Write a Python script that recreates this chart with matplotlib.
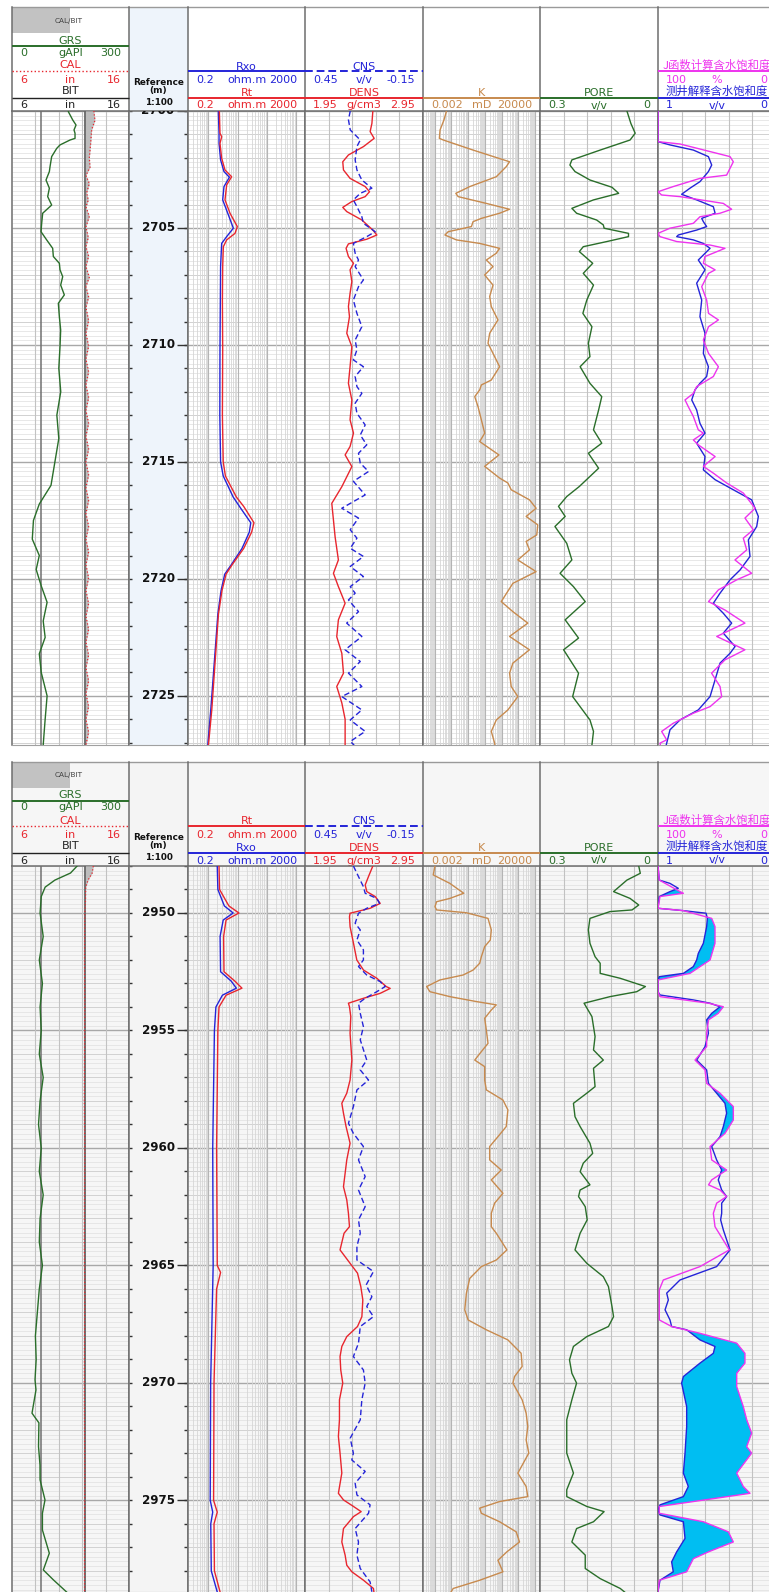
import numpy as np
import matplotlib
matplotlib.use("Agg")
import matplotlib.pyplot as plt
from matplotlib.patches import Rectangle
from matplotlib.ticker import NullLocator

plt.rcParams['font.family'] = ['DejaVu Sans', 'Noto Sans CJK SC']

# ======================= interval A : 2700 - 2727 m =======================
A_RANGE = (2700.0, 2727.1)

GR_A_D = [2700.03, 2700.38, 2700.60, 2700.81, 2700.95, 2701.17, 2701.24, 2701.45, 2701.60, 2701.95,
          2702.38, 2702.59, 2702.95, 2703.30, 2703.66, 2704.02, 2704.37, 2704.80, 2705.16, 2705.51,
          2705.87, 2706.22, 2706.51, 2706.79, 2707.08, 2707.44, 2707.86, 2708.22, 2708.79, 2709.36,
          2710.07, 2711.0, 2712.0, 2713.0, 2714.0, 2715.0, 2716.0, 2716.8, 2717.5, 2718.3,
          2719.0, 2719.6, 2720.3, 2721.0, 2721.8, 2722.5, 2723.2, 2724.0, 2725.0, 2726.0, 2727.1]
GR_A = [144.5, 155.6, 164.2, 159.0, 161.6, 161.6, 148.8, 123.1, 114.6, 101.7,
        97.5, 95.8, 87.2, 95.8, 91.5, 101.7, 78.7, 76.1, 74.4, 88.9,
        104.3, 106.0, 121.4, 123.1, 130.0, 124.8, 134.2, 118.8, 121.4, 124.8,
        123.1, 120, 125, 115, 120, 110, 100, 70, 55, 52,
        70, 62, 75, 90, 80, 85, 70, 75, 90, 85, 80]

CAL_A_D = [2700.0, 2700.4, 2700.8, 2701.4, 2702.0, 2702.4, 2702.75, 2703.1, 2703.5, 2703.8,
           2704.1, 2704.5, 2704.95, 2705.4, 2705.8, 2706.2, 2706.65, 2707.1, 2707.5, 2707.95,
           2708.4, 2708.95, 2709.5, 2710.05, 2710.6, 2711.15, 2711.7, 2712.25, 2712.8, 2713.35,
           2713.9, 2714.45, 2715.0, 2715.55, 2716.1, 2716.65, 2717.2, 2717.75, 2718.3, 2718.85,
           2719.4, 2719.95, 2720.5, 2721.05, 2721.6, 2722.15, 2722.7, 2723.25, 2723.8, 2724.35,
           2724.9, 2725.45, 2726.0, 2726.55, 2727.1]
CAL_A = [13.0, 13.09, 12.81, 12.72, 12.61, 12.67, 12.32, 12.61, 12.38, 12.52,
         12.32, 12.61, 12.32, 12.52, 12.32, 12.55, 12.32, 12.61, 12.32, 12.55,
         12.32, 12.55, 12.32, 12.55, 12.32, 12.55, 12.32, 12.55, 12.32, 12.55,
         12.32, 12.55, 12.32, 12.55, 12.32, 12.55, 12.32, 12.55, 12.32, 12.55,
         12.32, 12.55, 12.32, 12.55, 12.32, 12.55, 12.32, 12.55, 12.32, 12.55,
         12.32, 12.55, 12.32, 12.55, 12.32]
BIT_SIZE = 12.25
GR_BASE = 75.0

RT_A_D = [2700.00, 2700.95, 2701.10, 2701.38, 2702.02, 2702.52, 2702.81, 2703.16, 2703.80, 2704.37,
          2704.94, 2705.23, 2705.51, 2705.80, 2706.65, 2708.08, 2710.21, 2713.0, 2715.0, 2715.6,
          2716.5, 2716.9, 2717.6, 2718.0, 2718.7, 2719.4, 2719.8, 2720.5, 2721.5, 2723.5,
          2725.6, 2727.1]
RT_A = [2.36, 2.48, 2.83, 2.48, 2.83, 3.68, 6.2, 4.2, 3.68, 5.46,
        9.7, 8.1, 4.2, 3.23, 3.07, 3.0, 3.07, 3.0, 3.2, 3.8,
        9.0, 16, 36, 30, 16, 6.4, 4.0, 2.9, 2.2, 1.7,
        1.3, 1.0]
RXO_A_D = [2700.00, 2700.95, 2701.38, 2702.09, 2702.59, 2702.83, 2703.23, 2703.80, 2704.44, 2705.01,
           2705.37, 2705.66, 2706.65, 2710.21, 2713.0, 2715.0, 2715.6, 2716.5, 2717.0, 2717.6,
           2718.0, 2718.7, 2719.4, 2719.8, 2720.5, 2721.5, 2723.5, 2725.6, 2727.1]
RXO_A = [2.18, 2.30, 2.30, 2.6, 3.4, 5.2, 3.4, 3.07, 4.8, 7.1,
         4.2, 2.83, 2.6, 2.48, 2.45, 2.6, 3.2, 7.0, 13, 28,
         25, 14, 6.0, 3.6, 2.7, 2.1, 1.6, 1.2, 0.95]

DEN_A_D = [2700.00, 2700.53, 2700.88, 2701.17, 2701.52, 2701.88, 2702.17, 2702.52, 2702.88, 2703.23,
           2703.45, 2703.66, 2703.87, 2704.12, 2704.30, 2704.66, 2705.09, 2705.30, 2705.48, 2705.68,
           2705.87, 2706.22, 2706.51, 2706.79, 2707.29, 2707.79, 2708.36, 2708.79, 2709.50, 2710.07,
           2710.93, 2711.64, 2712.35, 2713.20, 2713.77, 2714.34, 2714.70, 2715.20, 2716.06, 2716.77,
           2717.48, 2718.20, 2719.19, 2719.76, 2720.33, 2721.04, 2721.75, 2722.47, 2723.18, 2724.03,
           2724.60, 2725.30, 2726.00, 2727.10]
DEN_A = [2.525, 2.517, 2.502, 2.536, 2.446, 2.318, 2.270, 2.276, 2.332, 2.460,
         2.497, 2.460, 2.347, 2.270, 2.304, 2.432, 2.525, 2.559, 2.474, 2.318,
         2.298, 2.318, 2.361, 2.332, 2.347, 2.332, 2.318, 2.327, 2.304, 2.347,
         2.332, 2.318, 2.347, 2.332, 2.361, 2.332, 2.290, 2.347, 2.262, 2.177,
         2.191, 2.205, 2.233, 2.191, 2.233, 2.290, 2.233, 2.219, 2.262, 2.276,
         2.219, 2.262, 2.290, 2.290]

CNS_A_D = [2700.00, 2700.38, 2700.81, 2701.24, 2701.52, 2702.09, 2702.52, 2702.95, 2703.30, 2703.52,
           2703.80, 2704.09, 2704.52, 2704.80, 2705.16, 2705.37, 2705.66, 2706.08, 2706.37, 2706.65,
           2707.22, 2707.51, 2708.08, 2708.65, 2709.22, 2709.79, 2710.21, 2710.64, 2710.93, 2711.35,
           2711.78, 2712.07, 2712.49, 2712.92, 2713.42, 2713.85, 2714.27, 2714.63, 2715.05, 2715.41,
           2715.83, 2716.41, 2716.98, 2717.40, 2717.90, 2718.26, 2718.69, 2719.04, 2719.47, 2719.90,
           2720.33, 2720.61, 2720.90, 2721.40, 2721.89, 2722.46, 2723.03, 2723.53, 2724.03, 2724.60,
           2725.03, 2725.60, 2726.03, 2726.52, 2726.95, 2727.10]
CNS_A = [0.220, 0.229, 0.220, 0.169, 0.186, 0.195, 0.186, 0.161, 0.110, 0.169,
         0.204, 0.186, 0.161, 0.153, 0.093, 0.136, 0.204, 0.195, 0.178, 0.195,
         0.153, 0.178, 0.204, 0.186, 0.161, 0.195, 0.186, 0.204, 0.153, 0.195,
         0.186, 0.161, 0.195, 0.186, 0.144, 0.169, 0.136, 0.178, 0.169, 0.127,
         0.204, 0.144, 0.263, 0.178, 0.220, 0.186, 0.220, 0.153, 0.220, 0.153,
         0.220, 0.195, 0.229, 0.178, 0.238, 0.161, 0.246, 0.169, 0.229, 0.161,
         0.263, 0.161, 0.220, 0.144, 0.220, 0.200]

K_A_D = [2700.00, 2700.38, 2700.81, 2701.17, 2701.24, 2701.67, 2702.17, 2702.38, 2702.81, 2703.23,
         2703.52, 2703.66, 2703.95, 2704.20, 2704.37, 2704.59, 2704.73, 2704.94, 2705.16, 2705.30,
         2705.51, 2705.66, 2705.87, 2706.08, 2706.37, 2706.65, 2707.01, 2707.44, 2707.93, 2708.36,
         2708.93, 2709.50, 2709.93, 2710.36, 2710.93, 2711.50, 2711.71, 2711.92, 2712.21, 2712.64,
         2713.20, 2713.77, 2714.13, 2714.70, 2715.19, 2715.69, 2715.90, 2716.19, 2716.62, 2716.98,
         2717.33, 2717.69, 2718.12, 2718.40, 2718.76, 2719.19, 2719.69, 2720.19, 2720.97, 2721.40,
         2721.89, 2722.46, 2723.03, 2723.60, 2724.03, 2724.60, 2725.03, 2725.60, 2726.03, 2726.52,
         2727.02, 2727.10]
K_A = [0.051, 0.036, 0.021, 0.019, 0.033, 1.98, 302, 191, 48.5, 1.26,
       0.184, 0.254, 12.3, 302, 76.6, 6.2, 1.98, 1.58, 0.064, 0.041,
       0.2, 4.94, 76.6, 48.5, 12.3, 30.8, 9.8, 30.8, 19.5, 24.4,
       61, 19.5, 15.5, 30.8, 76.6, 24.4, 6.2, 4.94, 2.49, 3.93,
       6.2, 9.8, 4.94, 70, 9.8, 76.6, 240, 379, 4680, 11700,
       2970, 14700, 12800, 2970, 4680, 946, 11700, 477, 96, 477,
       3720, 302, 4680, 477, 302, 379, 946, 240, 48.5, 24.4,
       38.6, 40]

PORE_A_D = [2700.00, 2700.53, 2700.95, 2701.24, 2701.67, 2702.09, 2702.31, 2702.59, 2702.95, 2703.26,
            2703.52, 2703.80, 2704.16, 2704.37, 2704.66, 2704.87, 2705.01, 2705.23, 2705.37, 2705.58,
            2705.80, 2706.01, 2706.51, 2706.94, 2707.44, 2708.08, 2708.65, 2709.22, 2709.93, 2710.50,
            2710.93, 2711.64, 2712.21, 2712.78, 2713.63, 2714.20, 2714.63, 2715.27, 2716.05, 2716.48,
            2716.90, 2717.33, 2717.76, 2718.48, 2719.19, 2719.76, 2720.33, 2720.97, 2721.75, 2722.53,
            2723.03, 2724.03, 2725.03, 2726.03, 2726.52, 2727.10]
PORE_A = [0.079, 0.069, 0.058, 0.071, 0.147, 0.219, 0.224, 0.211, 0.173, 0.117,
          0.100, 0.164, 0.219, 0.207, 0.156, 0.139, 0.137, 0.075, 0.075, 0.130,
          0.190, 0.200, 0.166, 0.190, 0.164, 0.181, 0.191, 0.168, 0.177, 0.173,
          0.198, 0.173, 0.143, 0.151, 0.164, 0.143, 0.177, 0.151, 0.200, 0.232,
          0.253, 0.236, 0.262, 0.232, 0.219, 0.249, 0.215, 0.185, 0.236, 0.202,
          0.240, 0.202, 0.217, 0.173, 0.164, 0.168]

SW_A_D = [2700.00, 2701.31, 2701.45, 2701.67, 2701.95, 2702.31, 2702.59, 2703.02, 2703.30, 2703.56,
          2703.80, 2704.09, 2704.37, 2704.59, 2704.73, 2704.94, 2705.09, 2705.30, 2705.37, 2705.51,
          2705.66, 2705.87, 2706.37, 2706.79, 2707.36, 2708.08, 2708.79, 2709.50, 2710.36, 2710.93,
          2711.35, 2711.64, 2711.92, 2712.35, 2712.78, 2713.35, 2713.77, 2714.20, 2714.77, 2715.34,
          2715.76, 2716.19, 2716.62, 2717.33, 2717.76, 2718.33, 2719.04, 2719.62, 2720.04, 2720.61,
          2721.04, 2721.47, 2721.89, 2722.32, 2722.89, 2723.18, 2723.60, 2724.31, 2725.03, 2725.60,
          2726.03, 2726.45, 2726.74, 2727.02, 2727.10]
SW_A = [1.0, 1.0, 0.898, 0.699, 0.571, 0.543, 0.571, 0.643, 0.728, 0.799,
        0.671, 0.529, 0.514, 0.628, 0.614, 0.586, 0.671, 0.827, 0.841, 0.699,
        0.614, 0.557, 0.657, 0.600, 0.671, 0.628, 0.643, 0.600, 0.614, 0.571,
        0.586, 0.643, 0.685, 0.713, 0.671, 0.643, 0.600, 0.671, 0.600, 0.614,
        0.514, 0.359, 0.203, 0.146, 0.160, 0.231, 0.217, 0.302, 0.387, 0.472,
        0.529, 0.444, 0.373, 0.444, 0.344, 0.387, 0.472, 0.514, 0.557, 0.657,
        0.813, 0.898, 0.912, 0.926, 0.93]

SWJ_A_D = [2700.00, 2701.31, 2701.41, 2701.95, 2702.17, 2702.74, 2702.88, 2703.23, 2703.45, 2703.59,
           2703.66, 2703.95, 2704.20, 2704.37, 2704.52, 2704.80, 2705.01, 2705.23, 2705.37, 2705.58,
           2705.73, 2705.87, 2706.22, 2706.51, 2706.79, 2706.94, 2707.51, 2708.08, 2708.65, 2708.93,
           2709.22, 2709.79, 2710.36, 2710.93, 2711.35, 2711.78, 2712.07, 2712.35, 2712.64, 2713.06,
           2713.63, 2713.77, 2714.06, 2714.27, 2714.77, 2715.19, 2715.48, 2715.90, 2716.33, 2716.98,
           2717.40, 2717.90, 2718.26, 2718.76, 2719.19, 2719.76, 2720.04, 2720.47, 2720.97, 2721.33,
           2721.89, 2722.46, 2723.03, 2723.46, 2724.03, 2724.60, 2725.03, 2725.46, 2725.74, 2726.17,
           2726.52, 2726.88, 2727.02, 2727.10]
SWJ_A = [100, 100, 81.3, 38.7, 35.9, 41.6, 64.3, 87.0, 100, 96.9,
         81.3, 44.4, 37.3, 47.2, 64.3, 69.9, 89.8, 100, 98.3, 84.1,
         55.7, 43.0, 60.0, 61.4, 51.4, 57.0, 62.8, 58.6, 57.0, 48.6,
         57.0, 61.4, 57.0, 48.6, 52.9, 67.1, 69.9, 77.0, 74.2, 69.9,
         65.7, 61.4, 69.9, 65.7, 51.4, 61.4, 52.9, 41.6, 27.4, 17.4,
         26.0, 18.9, 27.4, 24.5, 34.5, 20.3, 33.0, 48.6, 57.0, 43.0,
         26.0, 50.0, 26.0, 43.0, 54.4, 47.2, 45.8, 55.7, 69.9, 87.0,
         96.9, 92.6, 98.3, 98.0]

# ======================= interval B : 2948 - 2979 m =======================
B_RANGE = (2948.0, 2978.9)

GR_B_D = [2948.0, 2948.3, 2948.6, 2948.9, 2949.3, 2950.0, 2951.0, 2952.0, 2953.0, 2954.0,
          2955.0, 2956.0, 2957.0, 2958.0, 2959.0, 2960.0, 2961.0, 2962.0, 2963.0, 2964.0,
          2965.0, 2966.0, 2967.0, 2968.0, 2969.0, 2969.87, 2970.3, 2971.29, 2971.7, 2972.71,
          2973.5, 2974.13, 2974.98, 2975.55, 2976.26, 2977.25, 2977.96, 2978.38, 2978.9]
GR_B = [167, 150, 110, 85, 75, 72, 80, 70, 78, 72,
        75, 70, 80, 72, 68, 75, 70, 80, 72, 70,
        78, 70, 65, 60, 62, 59, 61.5, 51.3, 69, 68,
        71.8, 72, 84.6, 78, 78, 95.7, 80.3, 105.9, 140]
CAL_B_D = [2948.0, 2948.3, 2948.6, 2948.9, 2949.5, 2950.0, 2952.0, 2954.0, 2956.0, 2958.0,
           2960.0, 2962.0, 2964.0, 2966.0, 2968.0, 2970.0, 2972.0, 2974.0, 2976.0, 2978.9]
CAL_B = [12.95, 12.85, 12.5, 12.3, 12.28, 12.22, 12.2, 12.22, 12.2, 12.18,
         12.22, 12.2, 12.18, 12.22, 12.2, 12.18, 12.2, 12.22, 12.2, 12.2]

RT_B_D = [2948.0, 2949.0, 2949.7, 2950.0, 2950.3, 2951.0, 2952.5, 2952.9, 2953.2, 2953.5,
          2954.0, 2955.0, 2960.0, 2965.0, 2965.3, 2966.0, 2970.0, 2975.0, 2975.5, 2976.0,
          2978.0, 2978.9]
RT_B = [2.3, 2.4, 5.0, 11, 4.0, 3.3, 3.4, 8, 14, 4.0,
        2.3, 2.1, 1.9, 2.0, 2.6, 1.9, 1.55, 1.5, 2.0, 1.55,
        1.6, 2.5]
RXO_B_D = [2948.0, 2949.0, 2949.7, 2950.0, 2950.3, 2951.0, 2952.5, 2952.9, 2953.2, 2953.5,
           2954.0, 2955.0, 2960.0, 2965.0, 2970.0, 2975.0, 2975.5, 2976.0, 2978.0, 2978.9]
RXO_B = [2.0, 2.1, 3.5, 7.0, 3.2, 2.5, 2.6, 6.0, 9.0, 3.0,
         1.8, 1.6, 1.4, 1.45, 1.19, 1.15, 1.4, 1.2, 1.25, 2.0]

DEN_B_D = [2948.00, 2948.45, 2948.81, 2949.09, 2949.30, 2949.59, 2949.80, 2950.01, 2950.16, 2950.58,
           2951.29, 2952.00, 2952.43, 2952.78, 2953.13, 2953.21, 2953.42, 2953.63, 2953.84, 2953.99,
           2954.41, 2955.12, 2956.26, 2957.11, 2957.67, 2958.10, 2958.52, 2959.09, 2959.80, 2960.51,
           2961.08, 2961.65, 2962.21, 2962.78, 2963.35, 2963.63, 2964.34, 2964.91, 2965.33, 2965.90,
           2966.47, 2967.18, 2967.60, 2968.03, 2968.45, 2968.88, 2969.45, 2970.01, 2970.72, 2971.57,
           2972.28, 2972.99, 2973.84, 2974.70, 2974.98, 2975.26, 2975.48, 2975.69, 2976.20, 2976.77,
           2977.33, 2977.76, 2978.04, 2978.40, 2978.75, 2978.98]
DEN_B = [2.525, 2.488, 2.460, 2.474, 2.545, 2.587, 2.502, 2.332, 2.327, 2.332,
         2.361, 2.389, 2.446, 2.559, 2.638, 2.672, 2.587, 2.446, 2.318, 2.327,
         2.338, 2.332, 2.347, 2.332, 2.304, 2.262, 2.276, 2.298, 2.332, 2.304,
         2.290, 2.276, 2.304, 2.318, 2.327, 2.281, 2.247, 2.332, 2.395, 2.423,
         2.440, 2.432, 2.395, 2.304, 2.262, 2.247, 2.253, 2.270, 2.242, 2.242,
         2.233, 2.247, 2.262, 2.233, 2.276, 2.361, 2.426, 2.361, 2.276, 2.262,
         2.290, 2.304, 2.347, 2.446, 2.530, 2.536]

CNS_B_D = [2948.00, 2948.45, 2948.88, 2949.16, 2949.38, 2949.59, 2949.80, 2950.01, 2950.44, 2950.72,
           2951.15, 2951.57, 2952.00, 2952.28, 2952.64, 2952.92, 2953.13, 2953.35, 2953.63, 2953.84,
           2954.27, 2954.84, 2955.40, 2956.26, 2956.68, 2957.11, 2957.53, 2958.24, 2958.95, 2959.38,
           2959.94, 2960.51, 2961.22, 2961.79, 2962.50, 2963.06, 2963.63, 2964.19, 2964.77, 2965.26,
           2965.83, 2966.33, 2966.75, 2967.18, 2967.60, 2968.31, 2968.88, 2969.45, 2970.01, 2970.72,
           2971.57, 2972.35, 2972.99, 2973.28, 2973.77, 2974.27, 2974.77, 2975.19, 2975.55, 2976.20,
           2976.77, 2977.33, 2977.90, 2978.47, 2978.89]
CNS_B = [0.204, 0.178, 0.153, 0.144, 0.085, 0.071, 0.136, 0.178, 0.195, 0.169,
         0.186, 0.153, 0.153, 0.178, 0.136, 0.068, 0.042, 0.085, 0.144, 0.178,
         0.169, 0.153, 0.169, 0.136, 0.169, 0.127, 0.186, 0.204, 0.229, 0.204,
         0.153, 0.178, 0.144, 0.178, 0.144, 0.178, 0.169, 0.186, 0.186, 0.102,
         0.139, 0.110, 0.136, 0.102, 0.169, 0.178, 0.204, 0.153, 0.144, 0.161,
         0.169, 0.220, 0.204, 0.212, 0.144, 0.195, 0.186, 0.119, 0.127, 0.195,
         0.178, 0.186, 0.169, 0.119, 0.110]

K_B_D = [2948.00, 2948.38, 2948.74, 2949.16, 2949.38, 2949.52, 2949.73, 2949.87, 2949.99, 2950.23,
         2950.72, 2951.15, 2951.43, 2951.86, 2952.14, 2952.43, 2952.64, 2952.85, 2953.13, 2953.35,
         2953.56, 2953.77, 2953.91, 2954.13, 2954.48, 2954.98, 2955.55, 2955.90, 2956.26, 2956.54,
         2957.11, 2957.53, 2957.96, 2958.38, 2959.09, 2959.52, 2959.94, 2960.51, 2960.94, 2961.36,
         2961.93, 2962.35, 2962.78, 2963.35, 2963.63, 2964.34, 2964.77, 2965.05, 2965.55, 2966.18,
         2966.89, 2967.32, 2967.74, 2968.17, 2968.74, 2969.30, 2969.73, 2970.01, 2970.72, 2971.29,
         2971.86, 2972.43, 2972.99, 2973.84, 2974.41, 2974.84, 2975.05, 2975.33, 2975.55, 2975.91,
         2976.34, 2976.77, 2977.19, 2977.55, 2978.04, 2978.40, 2978.75, 2978.98]
K_B = [0.0104, 0.0082, 0.081, 0.55, 0.081, 0.013, 0.0104, 0.013, 0.79, 15.5,
       24.4, 21.3, 9.8, 6.2, 4.94, 1.98, 0.50, 0.0206, 0.0033, 0.0052,
       0.081, 3.13, 48.5, 24.4, 9.8, 12.3, 15.5, 6.2, 2.49, 9.8,
       9.8, 12.3, 121, 240, 191, 61, 19.5, 19.5, 96, 24.4,
       121, 38.6, 24.4, 24.4, 48.5, 209, 48.5, 6.2, 1.26, 0.79,
       0.63, 1.0, 12.3, 240, 1490, 1710, 598, 477, 1710, 2970,
       3720, 2970, 4270, 946, 2970, 3720, 76.6, 4.94, 6.2, 76.6,
       752, 1190, 209, 61, 121, 4.94, 0.128, 0.081]

PORE_B_D = [2948.00, 2948.31, 2948.60, 2949.09, 2949.38, 2949.66, 2949.87, 2949.94, 2950.23, 2950.72,
            2951.29, 2951.86, 2952.14, 2952.57, 2952.78, 2953.13, 2953.35, 2953.56, 2953.84, 2954.41,
            2955.26, 2955.83, 2956.26, 2956.61, 2957.39, 2957.67, 2958.10, 2958.67, 2959.09, 2959.80,
            2960.23, 2960.65, 2961.01, 2961.57, 2961.79, 2962.07, 2962.50, 2963.06, 2963.63, 2964.34,
            2964.91, 2965.48, 2965.90, 2966.75, 2967.18, 2967.60, 2968.03, 2968.45, 2969.02, 2969.59,
            2970.01, 2970.72, 2971.57, 2972.14, 2972.99, 2973.84, 2974.55, 2974.84, 2975.26, 2975.48,
            2975.91, 2976.20, 2976.77, 2977.33, 2977.90, 2978.33, 2978.75, 2978.98]
PORE_B = [0.049, 0.045, 0.079, 0.113, 0.071, 0.049, 0.066, 0.122, 0.173, 0.177,
          0.173, 0.160, 0.147, 0.147, 0.096, 0.032, 0.054, 0.122, 0.188, 0.168,
          0.160, 0.164, 0.139, 0.164, 0.160, 0.181, 0.215, 0.211, 0.198, 0.173,
          0.166, 0.190, 0.198, 0.173, 0.198, 0.202, 0.185, 0.180, 0.198, 0.211,
          0.181, 0.139, 0.126, 0.117, 0.113, 0.126, 0.181, 0.215, 0.225, 0.219,
          0.207, 0.219, 0.232, 0.232, 0.232, 0.215, 0.232, 0.232, 0.181, 0.137,
          0.164, 0.207, 0.219, 0.185, 0.185, 0.147, 0.096, 0.079]

SW_B_D = [2948.00, 2948.60, 2948.74, 2948.95, 2949.09, 2949.30, 2949.80, 2949.90, 2950.01, 2950.23,
          2950.58, 2951.29, 2951.72, 2952.00, 2952.28, 2952.57, 2952.71, 2952.85, 2953.35, 2953.49,
          2953.70, 2953.84, 2953.99, 2954.27, 2954.55, 2955.12, 2955.69, 2956.26, 2956.68, 2957.25,
          2957.67, 2958.10, 2958.52, 2959.09, 2959.52, 2959.94, 2960.51, 2960.94, 2961.36, 2961.79,
          2962.07, 2962.35, 2962.78, 2963.06, 2963.49, 2964.34, 2965.05, 2965.62, 2966.18, 2966.47,
          2966.89, 2967.32, 2967.60, 2967.74, 2968.17, 2968.45, 2968.74, 2969.16, 2969.73, 2970.01,
          2971.01, 2971.86, 2972.99, 2973.84, 2974.41, 2974.84, 2975.19, 2975.40, 2975.62, 2975.91,
          2976.62, 2977.19, 2977.62, 2978.04, 2978.40, 2978.89]
SW_B = [1.0, 0.989, 0.898, 0.827, 0.898, 0.989, 1.0, 0.784, 0.591, 0.580,
        0.586, 0.614, 0.657, 0.671, 0.699, 0.784, 0.989, 1.0, 1.0, 0.983,
        0.699, 0.557, 0.472, 0.543, 0.586, 0.571, 0.600, 0.671, 0.586, 0.571,
        0.501, 0.430, 0.416, 0.444, 0.472, 0.543, 0.501, 0.458, 0.487, 0.458,
        0.416, 0.458, 0.458, 0.467, 0.444, 0.387, 0.501, 0.813, 0.926, 0.912,
        0.940, 0.898, 0.884, 0.756, 0.643, 0.515, 0.529, 0.643, 0.784, 0.799,
        0.756, 0.756, 0.770, 0.784, 0.742, 0.784, 0.983, 1.0, 0.983, 0.784,
        0.770, 0.841, 0.884, 0.870, 0.983, 1.0]

SWJ_B_D = [2948.00, 2948.60, 2949.09, 2949.16, 2949.30, 2949.80, 2949.90, 2950.23, 2950.58, 2951.29,
           2952.00, 2952.57, 2952.85, 2953.35, 2953.56, 2953.84, 2953.99, 2954.27, 2954.55, 2955.12,
           2955.69, 2956.26, 2956.68, 2957.25, 2957.67, 2958.24, 2958.81, 2959.38, 2959.94, 2960.51,
           2960.94, 2961.36, 2961.57, 2961.79, 2962.07, 2962.35, 2962.78, 2963.35, 2964.34, 2965.05,
           2965.62, 2966.04, 2967.32, 2967.60, 2967.89, 2968.31, 2968.74, 2969.16, 2969.59, 2970.16,
           2971.01, 2971.57, 2972.14, 2972.71, 2972.99, 2973.84, 2974.41, 2974.70, 2975.26, 2975.55,
           2975.91, 2976.34, 2976.77, 2977.19, 2977.48, 2978.04, 2978.40, 2978.89]
SWJ_B = [100, 98.9, 81.3, 78.4, 98.3, 100, 78.4, 54.3, 51.5, 51.5,
         55.7, 72.8, 100, 100, 98.3, 57.0, 44.4, 48.7, 57.0, 58.6,
         58.6, 68.5, 60.0, 58.6, 47.2, 35.9, 35.9, 43.0, 55.7, 54.3,
         41.6, 54.3, 57.0, 47.2, 41.6, 50.1, 52.9, 51.5, 39.3, 64.3,
         95.5, 98.9, 98.9, 88.4, 64.3, 33.0, 26.0, 26.0, 33.0, 33.0,
         27.4, 24.5, 20.3, 24.5, 20.3, 33.0, 27.4, 21.7, 98.9, 98.9,
         61.4, 40.1, 35.9, 57.0, 69.9, 75.6, 98.9, 100]

# ======================= layout & styling =======================
W, H, DPI = 769, 1592, 100
EDGES = [12, 129, 188, 305, 423, 540, 658, 775.5]

C_GREEN = '#2A6E2A'
C_RED = '#E8262E'
C_BLUE = '#2424D8'
C_TAN = '#C78A4E'
C_MAG = '#EE33EE'
C_FILL = '#00BEF2'
C_BORDER = '#6E6E6E'

fig = plt.figure(figsize=(W / DPI, H / DPI), dpi=DPI)
fig.patch.set_facecolor('white')

ov = fig.add_axes([0, 0, 1, 1])
ov.set_xlim(0, W)
ov.set_ylim(H, 0)
ov.set_axis_off()


def px_axes(x0, x1, y0, y1):
    return fig.add_axes([x0 / W, 1 - y1 / H, (x1 - x0) / W, (y1 - y0) / H])


def no_ticks(ax):
    for axis in (ax.xaxis, ax.yaxis):
        axis.set_major_locator(NullLocator())
        axis.set_minor_locator(NullLocator())


def style_track(ax, bg):
    ax.set_facecolor(bg)
    for s in ('left', 'right', 'top'):
        ax.spines[s].set_color(C_BORDER)
        ax.spines[s].set_linewidth(1.1)
    ax.spines['bottom'].set_color('#A0A0A0')
    ax.spines['bottom'].set_linewidth(0.8)


def depth_grid(ax, d0, d1):
    tr = ax.get_yaxis_transform()
    fine = np.arange(np.ceil(d0 * 5) / 5, d1, 0.2)
    ax.hlines(fine, 0, 1, transform=tr, colors='#E4E4E4', lw=0.6, zorder=0.5)
    met = np.arange(np.ceil(d0), d1, 1.0)
    ax.hlines(met, 0, 1, transform=tr, colors='#D2D2D2', lw=0.7, zorder=0.6)
    five = np.arange(np.ceil(d0 / 5) * 5, d1, 5.0)
    ax.hlines(five, 0, 1, transform=tr, colors='#A8A8A8', lw=1.0, zorder=0.7)


def lin_grid(ax, lo, hi):
    xs = np.linspace(lo, hi, 6)[1:-1]
    ax.vlines(xs, 0, 1, transform=ax.get_xaxis_transform(), colors='#C2C2C2', lw=0.8, zorder=0.8)


def log_grid(ax, lo, hi):
    e0, e1 = int(np.floor(np.log10(lo))), int(np.ceil(np.log10(hi)))
    minor = [m * 10.0 ** e for e in range(e0, e1 + 1) for m in range(2, 10)]
    minor = [v for v in minor if lo * 1.0001 < v < hi * 0.9999]
    major = [10.0 ** e for e in range(e0, e1 + 1) if lo < 10.0 ** e < hi]
    tr = ax.get_xaxis_transform()
    ax.vlines(minor, 0, 1, transform=tr, colors='#D6D6D6', lw=0.6, zorder=0.8)
    ax.vlines(major, 0, 1, transform=tr, colors='#B4B4B4', lw=0.8, zorder=0.8)


def twin(ax, lo, hi):
    t = ax.twiny()
    t.set_xlim(lo, hi)
    t.set_axis_off()
    return t


def htext(x, y, s, color, ha='center', size=7.3, **kw):
    ov.text(x, y, s, color=color, ha=ha, va='center', fontsize=size, **kw)


def scale_row(x0, x1, y, left, mid, right, color, size=7.3):
    htext(x0 + 8, y, left, color, ha='left', size=size)
    htext((x0 + x1) / 2, y, mid, color, size=size)
    htext(x1 - 8, y, right, color, ha='right', size=size)


def hline(x0, x1, y, color, lw=1.4, ls='-'):
    ov.plot([x0, x1], [y, y], color=color, lw=lw, ls=ls, solid_capstyle='butt')


def header(h, bg, depth_bg, res_upper):
    top, bot = h, h + 104
    ov.add_patch(Rectangle((EDGES[0], top), EDGES[-1] - EDGES[0], bot - top, facecolor=bg,
                           edgecolor='none', zorder=0))
    ov.add_patch(Rectangle((EDGES[1], top), EDGES[2] - EDGES[1], bot - top, facecolor=depth_bg,
                           edgecolor='none', zorder=0.1))
    ov.plot([EDGES[0], EDGES[-1]], [top, top], color='#9A9A9A', lw=1.0)
    for x in EDGES[:-1]:
        ov.plot([x, x], [top, bot], color=C_BORDER, lw=1.1)

    # track 1 : GRS / CAL / BIT
    x0, x1 = EDGES[0], EDGES[1]
    ov.add_patch(Rectangle((x0, top), 58, 26, facecolor='#C2C2C2', edgecolor='none', zorder=0.2))
    htext(69, top + 13.5, 'CAL/BIT', '#404040', size=5.2)
    htext((x0 + x1) / 2, top + 33.5, 'GRS', C_GREEN, size=8)
    hline(x0, x1, top + 38.5, C_GREEN)
    scale_row(x0, x1, top + 45.5, '0', 'gAPI', '300', C_GREEN, size=8)
    htext((x0 + x1) / 2, top + 58.5, 'CAL', C_RED, size=8)
    hline(x0, x1, top + 64.3, C_RED, lw=1.0, ls=':')
    scale_row(x0, x1, top + 73, '6', 'in', '16', C_RED, size=8)
    htext((x0 + x1) / 2, top + 84, 'BIT', '#222222', size=8)
    hline(x0, x1, top + 91, '#222222', lw=1.0)
    scale_row(x0, x1, top + 98.5, '6', 'in', '16', '#222222', size=8)

    # depth column
    xc = (EDGES[1] + EDGES[2]) / 2
    htext(xc, top + 75.5, 'Reference', '#111111', size=6.4, fontweight='bold')
    htext(xc, top + 83.7, '(m)', '#111111', size=6.4, fontweight='bold')
    htext(xc, top + 95.3, '1:100', '#111111', size=6.4, fontweight='bold')

    # resistivity
    x0, x1 = EDGES[2], EDGES[3]
    rows = [('Rxo', C_BLUE), ('Rt', C_RED)] if res_upper == 'Rxo' else [('Rt', C_RED), ('Rxo', C_BLUE)]
    for (name, col), (yn, yl, ys) in zip(rows, [(59.5, 64.3, 73), (86, 91, 98.5)]):
        htext((x0 + x1) / 2, top + yn, name, col, size=8)
        hline(x0, x1, top + yl, col)
        scale_row(x0, x1, top + ys, '0.2', 'ohm.m', '2000', col, size=8)

    # density / neutron
    x0, x1 = EDGES[3], EDGES[4]
    htext((x0 + x1) / 2, top + 59.5, 'CNS', C_BLUE, size=8)
    hline(x0, x1, top + 64.3, C_BLUE, ls=(0, (4, 2)))
    scale_row(x0, x1, top + 73, '0.45', 'v/v', '-0.15', C_BLUE, size=8)
    htext((x0 + x1) / 2, top + 86, 'DENS', C_RED, size=8)
    hline(x0, x1, top + 91, C_RED)
    scale_row(x0, x1, top + 98.5, '1.95', 'g/cm3', '2.95', C_RED, size=8)

    # permeability
    x0, x1 = EDGES[4], EDGES[5]
    htext((x0 + x1) / 2, top + 86, 'K', C_TAN, size=8)
    hline(x0, x1, top + 91, C_TAN)
    scale_row(x0, x1, top + 98.5, '0.002', 'mD', '20000', C_TAN, size=8)

    # porosity
    x0, x1 = EDGES[5], EDGES[6]
    htext((x0 + x1) / 2, top + 86, 'PORE', C_GREEN, size=8)
    hline(x0, x1, top + 91, C_GREEN)
    scale_row(x0, x1, top + 98.5, '0.3', 'v/v', '0', C_GREEN, size=8)

    # water saturation
    x0, x1 = EDGES[6], EDGES[7]
    htext((x0 + x1) / 2, top + 58.5, 'J函数计算含水饱和度', C_MAG, size=8.2,
          family=['Noto Sans CJK SC'])
    hline(x0, x1, top + 64.3, C_MAG)
    scale_row(x0, x1, top + 73, '100', '%', '0', C_MAG, size=8)
    htext((x0 + x1) / 2, top + 84, '测井解释含水饱和度', C_BLUE, size=8.2,
          family=['Noto Sans CJK SC'])
    hline(x0, x1, top + 91, C_BLUE)
    scale_row(x0, x1, top + 98.5, '1', 'v/v', '0', C_BLUE, size=8)


def panel(h, y_top, y_bot, rng, bg, depth_bg, res_upper, data, fill_sw):
    header(h, bg, depth_bg, res_upper)
    d0, d1 = rng
    axes = []
    for i in range(7):
        ax = px_axes(EDGES[i], EDGES[i + 1], y_top, y_bot)
        style_track(ax, depth_bg if i == 1 else bg)
        ax.set_ylim(d1, d0)
        axes.append(ax)
    a_gr, a_dep, a_res, a_den, a_k, a_por, a_sw = axes

    # track 1
    a_gr.set_xlim(0, 300)
    depth_grid(a_gr, d0, d1)
    lin_grid(a_gr, 0, 300)
    a_gr.axvline(GR_BASE, color='#707070', lw=1.1, zorder=1)
    cal = twin(a_gr, 6, 16)
    cal.fill_betweenx(data['cal_d'], BIT_SIZE, data['cal'], color='#BDBDBD', lw=0, zorder=1)
    cal.axvline(BIT_SIZE, color='#666666', lw=1.3, zorder=2)
    cal.plot(data['cal'], data['cal_d'], color=C_RED, lw=0.9, ls=':', zorder=3)
    cal.set_ylim(d1, d0)
    a_gr.plot(data['gr'], data['gr_d'], color=C_GREEN, lw=1.0, zorder=4)

    # depth column
    a_dep.set_xlim(0, 1)
    tr = a_dep.get_yaxis_transform()
    metres = np.arange(np.ceil(d0), d1 + 1e-6, 1.0)
    a_dep.hlines(metres, 1 - 4.5 / 59, 1, transform=tr, colors='#333333', lw=1.0)
    a_dep.hlines(metres, 0, 3 / 59, transform=tr, colors='#333333', lw=1.0)
    fives = np.arange(np.ceil(d0 / 5) * 5, d1 + 1e-6, 5.0)
    a_dep.hlines(fives, 1 - 11 / 59, 1, transform=tr, colors='#333333', lw=1.0)
    for dv in fives:
        a_dep.text(0.775, dv, f'{dv:.0f}', transform=tr, ha='right', va='center',
                   fontsize=8.6, fontweight='bold', color='#111111', clip_on=True)

    # resistivity
    a_res.set_xscale('log')
    a_res.set_xlim(0.2, 2000)
    depth_grid(a_res, d0, d1)
    log_grid(a_res, 0.2, 2000)
    a_res.plot(data['rxo'], data['rxo_d'], color=C_BLUE, lw=1.0, zorder=3)
    a_res.plot(data['rt'], data['rt_d'], color=C_RED, lw=1.0, zorder=4)

    # density / neutron
    a_den.set_xlim(1.95, 2.95)
    depth_grid(a_den, d0, d1)
    lin_grid(a_den, 1.95, 2.95)
    a_den.plot(data['den'], data['den_d'], color=C_RED, lw=1.0, zorder=3)
    cns = twin(a_den, 0.45, -0.15)
    cns.set_ylim(d1, d0)
    cns.plot(data['cns'], data['cns_d'], color=C_BLUE, lw=1.0, ls=(0, (4, 2.2)), zorder=4)

    # permeability
    a_k.set_xscale('log')
    a_k.set_xlim(0.002, 20000)
    depth_grid(a_k, d0, d1)
    log_grid(a_k, 0.002, 20000)
    a_k.plot(data['k'], data['k_d'], color=C_TAN, lw=1.0, zorder=3)

    # porosity
    a_por.set_xlim(0.3, 0)
    depth_grid(a_por, d0, d1)
    lin_grid(a_por, 0.3, 0)
    a_por.plot(data['pore'], data['pore_d'], color=C_GREEN, lw=1.0, zorder=3)

    # saturation
    a_sw.set_xlim(1, 0)
    depth_grid(a_sw, d0, d1)
    lin_grid(a_sw, 1, 0)
    swj = twin(a_sw, 100, 0)
    swj.set_ylim(d1, d0)
    if fill_sw:
        dd = np.union1d(data['sw_d'], data['swj_d'])
        s_log = np.interp(dd, data['sw_d'], data['sw'])
        s_j = np.interp(dd, data['swj_d'], np.asarray(data['swj']) / 100.0)
        a_sw.fill_betweenx(dd, s_log, s_j, where=s_j < s_log, interpolate=True,
                           color=C_FILL, lw=0, zorder=2)
    swj.plot(data['swj'], data['swj_d'], color=C_MAG, lw=1.0, zorder=3)
    a_sw.plot(data['sw'], data['sw_d'], color=C_BLUE, lw=1.0, zorder=4)

    for ax in axes:
        no_ticks(ax)


DATA_A = dict(gr_d=GR_A_D, gr=GR_A, cal_d=CAL_A_D, cal=CAL_A, rt_d=RT_A_D, rt=RT_A,
              rxo_d=RXO_A_D, rxo=RXO_A, den_d=DEN_A_D, den=DEN_A, cns_d=CNS_A_D, cns=CNS_A,
              k_d=K_A_D, k=K_A, pore_d=PORE_A_D, pore=PORE_A, sw_d=SW_A_D, sw=SW_A,
              swj_d=SWJ_A_D, swj=SWJ_A)
DATA_B = dict(gr_d=GR_B_D, gr=GR_B, cal_d=CAL_B_D, cal=CAL_B, rt_d=RT_B_D, rt=RT_B,
              rxo_d=RXO_B_D, rxo=RXO_B, den_d=DEN_B_D, den=DEN_B, cns_d=CNS_B_D, cns=CNS_B,
              k_d=K_B_D, k=K_B, pore_d=PORE_B_D, pore=PORE_B, sw_d=SW_B_D, sw=SW_B,
              swj_d=SWJ_B_D, swj=SWJ_B)

panel(7, 111, 745, A_RANGE, '#FFFFFF', '#EEF4FB', 'Rxo', DATA_A, fill_sw=False)
panel(762, 866, 1592, B_RANGE, '#F6F6F6', '#F4F4F4', 'Rt', DATA_B, fill_sw=True)

fig.savefig('out.png', dpi=DPI, facecolor='white')
